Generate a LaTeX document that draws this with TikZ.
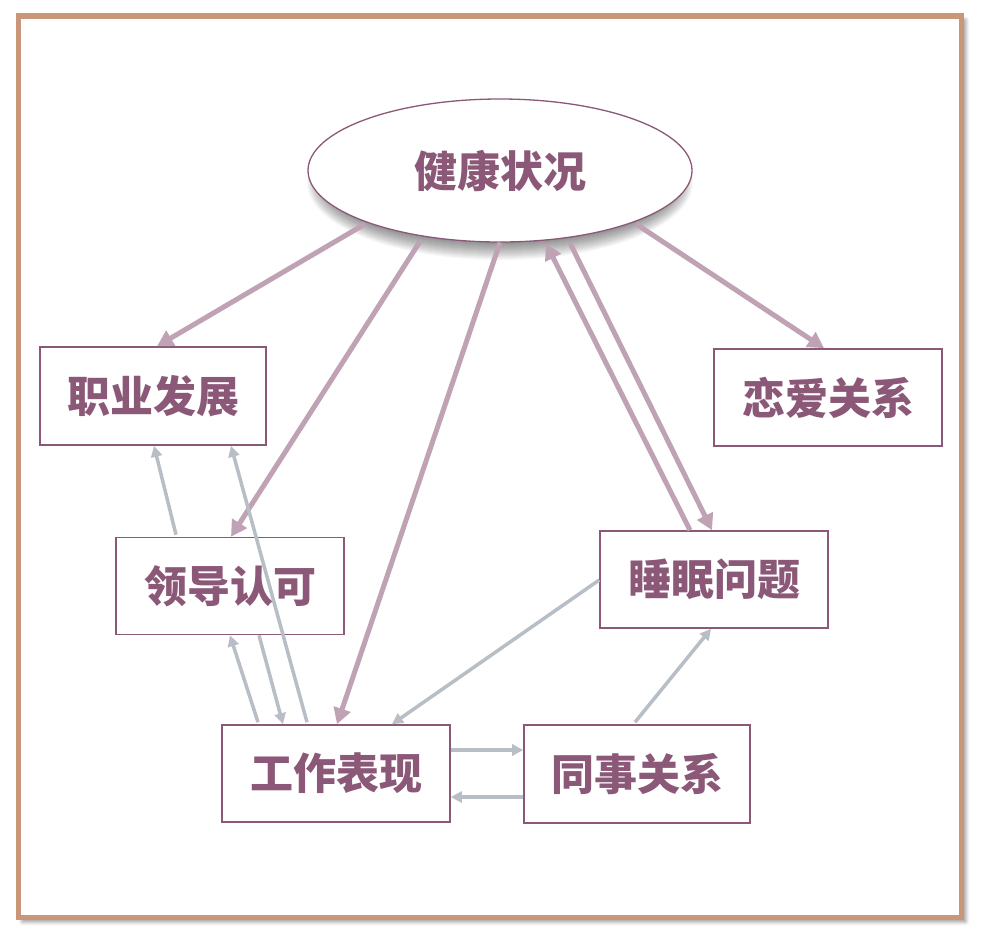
\documentclass[tikz,border=0pt]{standalone}
\usepackage{fontspec}
\newfontfamily\cjk{Noto Sans CJK SC}
\usetikzlibrary{arrows.meta,shadows.blur,calc,shapes.geometric}
\definecolor{txt}{HTML}{8B5878}
\definecolor{thick}{HTML}{C0A2B5}
\definecolor{grayarr}{HTML}{B8BEC6}
\definecolor{frame}{HTML}{C9967A}
\tikzset{
  box/.style={draw=txt,line width=1.6pt,rectangle,inner sep=0pt,font=\cjk\bfseries\fontsize{43}{43}\selectfont,text=txt},
  bigarr/.style={draw=thick,line width=5pt,-{Triangle[length=16pt,width=17pt]}},
  smallarr/.style={draw=grayarr,line width=3.5pt,-{Triangle[length=11pt,width=11pt]}},
}
\begin{document}
\begin{tikzpicture}[x=1pt,y=-1pt]
\useasboundingbox (0,0) rectangle (984,946);
\node[draw=frame,line width=5.5pt,fill=white,rectangle,inner sep=0pt,minimum width=943pt,minimum height=901.5pt,
  blur shadow={shadow xshift=4pt,shadow yshift=-4pt,shadow blur steps=8,shadow blur radius=4pt,shadow opacity=45}] (frm) at (490,466.75) {};
% soft shadow below the ellipse
\foreach \i in {0,...,19}{
  \fill[black,opacity=0.028] (500,183) ellipse [x radius={(174+\i)*1pt}, y radius={(58+\i)*1pt}];
}
\node[box,ellipse,line width=1.3pt,fill=white,minimum width=384pt,minimum height=143pt] (ell) at (500,170.5) {\raisebox{-3pt}{健康状况}};
\node[box,minimum width=226pt,minimum height=98pt] (zy) at (153,396) {职业发展};
\node[box,minimum width=228pt,minimum height=97pt] (la) at (828,397.5) {恋爱关系};
\node[box,minimum width=228pt,minimum height=97pt] (ld) at (230,586) {领导认可};
\node[box,minimum width=228pt,minimum height=97pt] (sm) at (714,579.5) {睡眠问题};
\node[box,minimum width=228pt,minimum height=97pt] (gz) at (336,773.5) {工作表现};
\node[box,minimum width=226pt,minimum height=98pt] (ts) at (637,774) {同事关系};
% thick arrows
\draw[bigarr] ([shift={(-135,53.5)}]ell.center) -- ([xshift=4pt]zy.north);
\draw[bigarr] ([shift={(-80,71)}]ell.center) -- ([xshift=1pt]ld.north);
\draw[bigarr] ([shift={(0,72)}]ell.center) -- ([xshift=1pt]gz.north);
\draw[bigarr] ([xshift=-24pt]sm.north) -- ([shift={(46,73)}]ell.center);
\draw[bigarr] ([shift={(70,72.5)}]ell.center) -- ([xshift=-2pt]sm.north);
\draw[bigarr] ([shift={(136,53.5)}]ell.center) -- ([xshift=-4pt]la.north);
% gray arrows
\draw[smallarr] ([xshift=-54pt,yshift=2pt]ld.north) -- ([xshift=1pt]zy.south);
\draw[smallarr] ([xshift=-29pt,yshift=2pt]gz.north) -- ([xshift=78pt]zy.south);
\draw[smallarr] ([xshift=-78pt,yshift=2pt]gz.north) -- ([xshift=0pt]ld.south);
\draw[smallarr] ([xshift=29pt]ld.south) -- ([xshift=-53pt]gz.north);
\draw[smallarr] ([yshift=-0.5pt]sm.west) -- ([xshift=56pt]gz.north);
\draw[smallarr] ([xshift=-2pt,yshift=2pt]ts.north) -- ([xshift=-3pt]sm.south);
\draw[smallarr] ([yshift=23.5pt]gz.east) -- ([yshift=24pt]ts.west);
\draw[smallarr] ([yshift=-23pt]ts.west) -- ([yshift=-23.5pt]gz.east);
\end{tikzpicture}
\end{document}
